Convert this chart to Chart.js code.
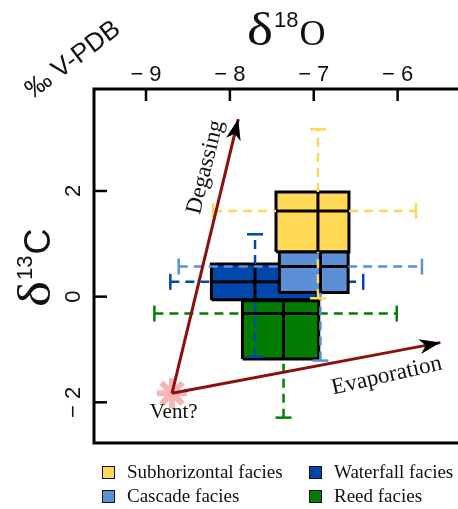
<!DOCTYPE html>
<html>
<head>
<meta charset="utf-8">
<script src="https://cdn.jsdelivr.net/npm/chart.js@4"></script>
<style>
  html, body { margin: 0; padding: 0; background: #fff; }
  #wrap { position: relative; width: 458px; height: 509px; overflow: hidden; }
  #legend { position: absolute; left: 0; top: 0; font-family: "Liberation Serif", serif; font-size: 19px; color: #111; }
  .item { position: absolute; display: flex; align-items: center; white-space: nowrap; line-height: 22px; }
  .sw { width: 11px; height: 11px; border: 1.5px solid #111; margin-right: 12px; }
</style>
</head>
<body>
<div id="wrap">
  <canvas id="chart" width="458" height="509"></canvas>
  <div id="legend"></div>
</div>
<script>
// facies groups
const facies = ['Subhorizontal facies', 'Cascade facies', 'Waterfall facies', 'Reed facies'];
const faciesColors = ['#FFD955', '#5C8FD6', '#0146AB', '#027D02'];

// central values (cross)
const d18O = [-6.95, -6.92, -7.70, -7.36];
const d13C = [1.62, 0.57, 0.28, -0.32];

// box limits
const boxOLo = [-7.45, -7.41, -8.22, -7.85];
const boxOHi = [-6.58, -6.59, -6.96, -6.94];
const boxCLo = [0.85, 0.08, -0.06, -1.18];
const boxCHi = [1.98, 0.85, 0.62, -0.08];

// dashed ranges (null = hidden behind another box)
const minO = [-8.20, -8.61, -8.71, -8.90];
const maxO = [-5.78, -5.71, -6.41, -6.01];
const minC = [-0.03, -1.21, -1.14, -2.29];
const maxC = [3.17, null, 1.18, null];

// vent and trend arrows
const ventO = -8.69;
const ventC = -1.83;
const arrowNames = ['Degassing', 'Evaporation'];
const arrowToO = [-7.90, -5.49];
const arrowToC = [3.36, -0.87];
const arrowLabelO = [-8.29, -6.13];
const arrowLabelC = [2.45, -1.50];
const arrowLabelAngle = [-76, -13];

// axes
const xTicks = [-9, -8, -7, -6];
const xTickLabels = ['\u2212 9', '\u2212 8', '\u2212 7', '\u2212 6'];
const yTicks = [-2, 0, 2];
const yTickLabels = ['\u2212 2', '0', '2'];

const datasets = [];
const gap = {x: null, y: null};

facies.forEach((name, i) => {
  const base = 2 + i * 3;
  const col = faciesColors[i];

  datasets.push({
    label: name,
    data: [
      {x: boxOLo[i], y: boxCLo[i]}, {x: boxOHi[i], y: boxCLo[i]},
      {x: boxOHi[i], y: boxCHi[i]}, {x: boxOLo[i], y: boxCHi[i]},
      {x: boxOLo[i], y: boxCLo[i]}
    ],
    borderColor: '#000',
    borderWidth: 3,
    borderJoinStyle: 'miter',
    backgroundColor: col,
    fill: 'shape',
    pointRadius: 0,
    order: base + 2
  });

  const w = [];
  w.push({x: minO[i], y: d13C[i], cap: 'v'}, {x: boxOLo[i], y: d13C[i]}, gap);
  w.push({x: boxOHi[i], y: d13C[i]}, {x: maxO[i], y: d13C[i], cap: 'v'}, gap);
  w.push({x: d18O[i], y: minC[i], cap: 'h'}, {x: d18O[i], y: boxCLo[i]}, gap);
  if (maxC[i] !== null) {
    w.push({x: d18O[i], y: boxCHi[i]}, {x: d18O[i], y: maxC[i], cap: 'h'});
  }
  datasets.push({
    label: name + ' range',
    data: w,
    borderColor: col,
    borderWidth: 2.5,
    borderDash: [9, 6],
    fill: false,
    pointStyle: 'line',
    pointRadius: c => (c.raw && c.raw.cap ? 8 : 0),
    pointRotation: c => (c.raw && c.raw.cap === 'v' ? 90 : 0),
    pointBorderColor: col,
    pointBorderWidth: 2.5,
    order: base + 1
  });

  datasets.push({
    label: name + ' cross',
    data: [
      {x: boxOLo[i], y: d13C[i]}, {x: boxOHi[i], y: d13C[i]}, gap,
      {x: d18O[i], y: boxCLo[i]}, {x: d18O[i], y: boxCHi[i]}
    ],
    borderColor: '#000',
    borderWidth: 3,
    fill: false,
    pointRadius: 0,
    order: base
  });
});

arrowNames.forEach((name, i) => {
  datasets.push({
    label: name,
    data: [{x: ventO, y: ventC}, {x: arrowToO[i], y: arrowToC[i]}],
    borderColor: '#8B1010',
    borderWidth: 3,
    fill: false,
    pointRadius: 0,
    order: 0
  });
});

datasets.push({
  label: 'Vent',
  data: [{x: ventO, y: ventC}],
  showLine: false,
  pointStyle: 'star',
  pointRadius: 15,
  pointBorderWidth: 6,
  pointBorderColor: '#F9B4B4',
  order: 1
});
datasets.push({
  label: 'Vent core',
  data: [{x: ventO, y: ventC}],
  showLine: false,
  pointStyle: 'circle',
  pointRadius: 7,
  pointBorderWidth: 0,
  pointBackgroundColor: '#F7AAAA',
  order: 1
});

const decor = {
  id: 'decor',
  afterDatasetsDraw(chart) {
    const {ctx, chartArea: a} = chart;
    const x = chart.scales.x, y = chart.scales.y;
    ctx.save();

    // arrowheads and arrow labels
    arrowNames.forEach((n, i) => {
      const x0 = x.getPixelForValue(ventO), y0 = y.getPixelForValue(ventC);
      const x1 = x.getPixelForValue(arrowToO[i]), y1 = y.getPixelForValue(arrowToC[i]);
      const ang = Math.atan2(y1 - y0, x1 - x0);
      ctx.save();
      ctx.translate(x1, y1);
      ctx.rotate(ang);
      ctx.fillStyle = '#000';
      ctx.beginPath();
      ctx.moveTo(0, 0);
      ctx.lineTo(-21, -7.5);
      ctx.lineTo(-15, 0);
      ctx.lineTo(-21, 7.5);
      ctx.closePath();
      ctx.fill();
      ctx.restore();

      ctx.save();
      ctx.translate(x.getPixelForValue(arrowLabelO[i]), y.getPixelForValue(arrowLabelC[i]));
      ctx.rotate(arrowLabelAngle[i] * Math.PI / 180);
      ctx.font = '23px "Liberation Serif"';
      ctx.fillStyle = '#111';
      ctx.textAlign = 'center';
      ctx.textBaseline = 'middle';
      ctx.fillText(n, 0, 0);
      ctx.restore();
    });

    ctx.font = '21px "Liberation Serif"';
    ctx.fillStyle = '#111';
    ctx.textAlign = 'center';
    ctx.textBaseline = 'alphabetic';
    ctx.fillText('Vent?', x.getPixelForValue(-8.67), y.getPixelForValue(-2.29));

    // frame
    ctx.strokeStyle = '#000';
    ctx.lineWidth = 3;
    ctx.beginPath();
    ctx.moveTo(a.right + 5, a.top);
    ctx.lineTo(a.left, a.top);
    ctx.lineTo(a.left, a.bottom);
    ctx.lineTo(a.right + 5, a.bottom);
    ctx.stroke();

    // ticks + labels
    ctx.lineWidth = 2.5;
    ctx.font = '22px "Liberation Sans"';
    ctx.fillStyle = '#111';
    xTicks.forEach((v, i) => {
      const px = x.getPixelForValue(v);
      ctx.beginPath();
      ctx.moveTo(px, a.top);
      ctx.lineTo(px, a.top + 12);
      ctx.stroke();
      ctx.textAlign = 'center';
      ctx.fillText(xTickLabels[i], px, a.top - 8);
    });
    yTicks.forEach((v, i) => {
      const py = y.getPixelForValue(v);
      ctx.beginPath();
      ctx.moveTo(a.left, py);
      ctx.lineTo(a.left + 13, py);
      ctx.stroke();
      ctx.save();
      ctx.translate(a.left - 14, py);
      ctx.rotate(-Math.PI / 2);
      ctx.textAlign = 'center';
      ctx.fillText(yTickLabels[i], 0, 0);
      ctx.restore();
    });

    // axis titles
    ctx.textAlign = 'left';
    ctx.save();
    ctx.translate(247, 45);
    ctx.save(); ctx.scale(1.2, 1);
    ctx.font = '46px "Liberation Serif"';
    ctx.fillText('\u03B4', 0, 0);
    const dW = ctx.measureText('\u03B4').width * 1.2;
    ctx.restore();
    ctx.font = '22px "Liberation Sans"';
    ctx.fillText('18', dW + 1, -18);
    const sW = ctx.measureText('18').width;
    ctx.font = '36px "Liberation Serif"';
    ctx.fillText('O', dW + sW + 2, 0);
    ctx.restore();

    ctx.save();
    ctx.translate(50, 307);
    ctx.rotate(-Math.PI / 2);
    ctx.save(); ctx.scale(1.2, 1);
    ctx.font = '46px "Liberation Serif"';
    ctx.fillText('\u03B4', 0, 0);
    const dW2 = ctx.measureText('\u03B4').width * 1.2;
    ctx.restore();
    ctx.font = '22px "Liberation Sans"';
    ctx.fillText('13', dW2 + 1, -18);
    const sW2 = ctx.measureText('13').width;
    ctx.font = '36px "Liberation Sans"';
    ctx.fillText('C', dW2 + sW2 + 2, 0);
    ctx.restore();

    ctx.save();
    ctx.translate(33, 99);
    ctx.rotate(-37 * Math.PI / 180);
    ctx.font = '26px "Liberation Sans"';
    ctx.fillText('\u2030 V-PDB', 0, 0);
    ctx.restore();

    ctx.restore();
  }
};

new Chart(document.getElementById('chart'), {
  type: 'line',
  data: {datasets},
  options: {
    responsive: false,
    animation: false,
    events: [],
    layout: {autoPadding: false, padding: {left: 94, top: 89, right: 0, bottom: 66}},
    scales: {
      x: {type: 'linear', min: -9.62, max: -5.28, display: false},
      y: {type: 'linear', min: -2.77, max: 3.93, display: false}
    },
    plugins: {legend: {display: false}, tooltip: {enabled: false}}
  },
  plugins: [decor]
});

// legend below the plot
const leg = document.getElementById('legend');
const legX = [102, 309];
const legY = [461, 485];
facies.forEach((name, i) => {
  const it = document.createElement('div');
  it.className = 'item';
  it.style.left = legX[Math.floor(i / 2)] + 'px';
  it.style.top = legY[i % 2] + 'px';
  const sw = document.createElement('span');
  sw.className = 'sw';
  sw.style.background = faciesColors[i];
  const tx = document.createElement('span');
  tx.textContent = name;
  it.appendChild(sw);
  it.appendChild(tx);
  leg.appendChild(it);
});
</script>
</body>
</html>
